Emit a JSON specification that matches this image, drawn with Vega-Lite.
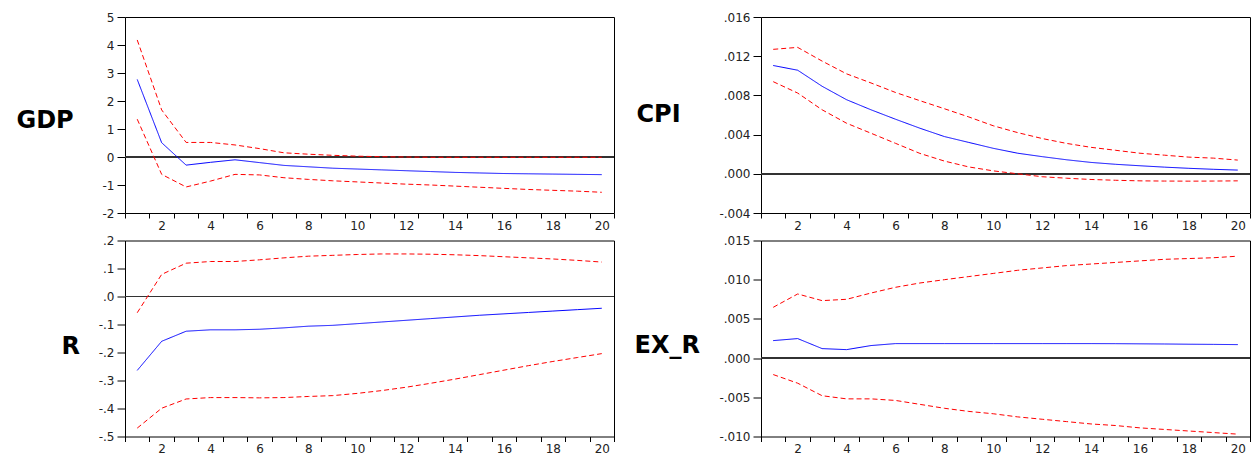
{
  "$schema": "https://vega.github.io/schema/vega-lite/v6.json",
  "background": "white",
  "padding": {"left": 15, "top": 10, "right": 0, "bottom": 0},
  "bounds": "flush",
  "columns": 2,
  "spacing": {"row": 27.5, "column": 147},
  "resolve": {"scale": {"x": "independent", "y": "independent"}, "axis": {"x": "independent", "y": "independent"}},
  "config": {
    "view": {"stroke": "black", "strokeWidth": 1},
    "axis": {"labelFont": "DejaVu Sans", "labelFontSize": 12, "labelColor": "#222", "tickColor": "black", "tickWidth": 1, "domain": false, "grid": false, "labelOverlap": false, "labelFlush": false, "titleFont": "DejaVu Sans", "titleFontWeight": "bold", "titleFontSize": 24, "titleColor": "black"},
    "axisX": {"tickSize": 5, "labelPadding": 2},
    "axisY": {"tickSize": 8, "labelPadding": 3}
  },
  "datasets": {
    "d": [
      {"p":"GDP","h":1,"s":"m","v":2.77},{"p":"GDP","h":2,"s":"m","v":0.51},{"p":"GDP","h":3,"s":"m","v":-0.29},{"p":"GDP","h":4,"s":"m","v":-0.19},{"p":"GDP","h":5,"s":"m","v":-0.10},{"p":"GDP","h":6,"s":"m","v":-0.20},{"p":"GDP","h":7,"s":"m","v":-0.30},{"p":"GDP","h":8,"s":"m","v":-0.35},{"p":"GDP","h":9,"s":"m","v":-0.40},{"p":"GDP","h":10,"s":"m","v":-0.43},{"p":"GDP","h":11,"s":"m","v":-0.46},{"p":"GDP","h":12,"s":"m","v":-0.49},{"p":"GDP","h":13,"s":"m","v":-0.52},{"p":"GDP","h":14,"s":"m","v":-0.55},{"p":"GDP","h":15,"s":"m","v":-0.57},{"p":"GDP","h":16,"s":"m","v":-0.59},{"p":"GDP","h":17,"s":"m","v":-0.60},{"p":"GDP","h":18,"s":"m","v":-0.61},{"p":"GDP","h":19,"s":"m","v":-0.62},{"p":"GDP","h":20,"s":"m","v":-0.63},
      {"p":"GDP","h":1,"s":"u","v":4.18},{"p":"GDP","h":2,"s":"u","v":1.68},{"p":"GDP","h":3,"s":"u","v":0.52},{"p":"GDP","h":4,"s":"u","v":0.52},{"p":"GDP","h":5,"s":"u","v":0.43},{"p":"GDP","h":6,"s":"u","v":0.30},{"p":"GDP","h":7,"s":"u","v":0.15},{"p":"GDP","h":8,"s":"u","v":0.10},{"p":"GDP","h":9,"s":"u","v":0.06},{"p":"GDP","h":10,"s":"u","v":0.03},{"p":"GDP","h":11,"s":"u","v":0.01},{"p":"GDP","h":12,"s":"u","v":0.0},{"p":"GDP","h":13,"s":"u","v":-0.01},{"p":"GDP","h":14,"s":"u","v":-0.01},{"p":"GDP","h":15,"s":"u","v":-0.01},{"p":"GDP","h":16,"s":"u","v":-0.01},{"p":"GDP","h":17,"s":"u","v":-0.01},{"p":"GDP","h":18,"s":"u","v":-0.01},{"p":"GDP","h":19,"s":"u","v":-0.01},{"p":"GDP","h":20,"s":"u","v":-0.01},
      {"p":"GDP","h":1,"s":"l","v":1.35},{"p":"GDP","h":2,"s":"l","v":-0.62},{"p":"GDP","h":3,"s":"l","v":-1.07},{"p":"GDP","h":4,"s":"l","v":-0.86},{"p":"GDP","h":5,"s":"l","v":-0.62},{"p":"GDP","h":6,"s":"l","v":-0.64},{"p":"GDP","h":7,"s":"l","v":-0.74},{"p":"GDP","h":8,"s":"l","v":-0.80},{"p":"GDP","h":9,"s":"l","v":-0.85},{"p":"GDP","h":10,"s":"l","v":-0.89},{"p":"GDP","h":11,"s":"l","v":-0.93},{"p":"GDP","h":12,"s":"l","v":-0.97},{"p":"GDP","h":13,"s":"l","v":-1.00},{"p":"GDP","h":14,"s":"l","v":-1.04},{"p":"GDP","h":15,"s":"l","v":-1.08},{"p":"GDP","h":16,"s":"l","v":-1.12},{"p":"GDP","h":17,"s":"l","v":-1.16},{"p":"GDP","h":18,"s":"l","v":-1.19},{"p":"GDP","h":19,"s":"l","v":-1.22},{"p":"GDP","h":20,"s":"l","v":-1.26},
      {"p":"CPI","h":1,"s":"m","v":0.01105},{"p":"CPI","h":2,"s":"m","v":0.01057},{"p":"CPI","h":3,"s":"m","v":0.00893},{"p":"CPI","h":4,"s":"m","v":0.00756},{"p":"CPI","h":5,"s":"m","v":0.00653},{"p":"CPI","h":6,"s":"m","v":0.00557},{"p":"CPI","h":7,"s":"m","v":0.00465},{"p":"CPI","h":8,"s":"m","v":0.0038},{"p":"CPI","h":9,"s":"m","v":0.0032},{"p":"CPI","h":10,"s":"m","v":0.0026},{"p":"CPI","h":11,"s":"m","v":0.0021},{"p":"CPI","h":12,"s":"m","v":0.00175},{"p":"CPI","h":13,"s":"m","v":0.00143},{"p":"CPI","h":14,"s":"m","v":0.00116},{"p":"CPI","h":15,"s":"m","v":0.00097},{"p":"CPI","h":16,"s":"m","v":0.00082},{"p":"CPI","h":17,"s":"m","v":0.00068},{"p":"CPI","h":18,"s":"m","v":0.00056},{"p":"CPI","h":19,"s":"m","v":0.00046},{"p":"CPI","h":20,"s":"m","v":0.00038},
      {"p":"CPI","h":1,"s":"u","v":0.0127},{"p":"CPI","h":2,"s":"u","v":0.0129},{"p":"CPI","h":3,"s":"u","v":0.0115},{"p":"CPI","h":4,"s":"u","v":0.0102},{"p":"CPI","h":5,"s":"u","v":0.00927},{"p":"CPI","h":6,"s":"u","v":0.0083},{"p":"CPI","h":7,"s":"u","v":0.00746},{"p":"CPI","h":8,"s":"u","v":0.00664},{"p":"CPI","h":9,"s":"u","v":0.0058},{"p":"CPI","h":10,"s":"u","v":0.0049},{"p":"CPI","h":11,"s":"u","v":0.0042},{"p":"CPI","h":12,"s":"u","v":0.0036},{"p":"CPI","h":13,"s":"u","v":0.0031},{"p":"CPI","h":14,"s":"u","v":0.0027},{"p":"CPI","h":15,"s":"u","v":0.0024},{"p":"CPI","h":16,"s":"u","v":0.0021},{"p":"CPI","h":17,"s":"u","v":0.0019},{"p":"CPI","h":18,"s":"u","v":0.0017},{"p":"CPI","h":19,"s":"u","v":0.0016},{"p":"CPI","h":20,"s":"u","v":0.0014},
      {"p":"CPI","h":1,"s":"l","v":0.0094},{"p":"CPI","h":2,"s":"l","v":0.00824},{"p":"CPI","h":3,"s":"l","v":0.00653},{"p":"CPI","h":4,"s":"l","v":0.00516},{"p":"CPI","h":5,"s":"l","v":0.00414},{"p":"CPI","h":6,"s":"l","v":0.00311},{"p":"CPI","h":7,"s":"l","v":0.00208},{"p":"CPI","h":8,"s":"l","v":0.0013},{"p":"CPI","h":9,"s":"l","v":0.0007},{"p":"CPI","h":10,"s":"l","v":0.0003},{"p":"CPI","h":11,"s":"l","v":0.0},{"p":"CPI","h":12,"s":"l","v":-0.0003},{"p":"CPI","h":13,"s":"l","v":-0.00045},{"p":"CPI","h":14,"s":"l","v":-0.00058},{"p":"CPI","h":15,"s":"l","v":-0.00066},{"p":"CPI","h":16,"s":"l","v":-0.00072},{"p":"CPI","h":17,"s":"l","v":-0.00074},{"p":"CPI","h":18,"s":"l","v":-0.00075},{"p":"CPI","h":19,"s":"l","v":-0.00074},{"p":"CPI","h":20,"s":"l","v":-0.00072},
      {"p":"R","h":1,"s":"m","v":-0.264},{"p":"R","h":2,"s":"m","v":-0.160},{"p":"R","h":3,"s":"m","v":-0.124},{"p":"R","h":4,"s":"m","v":-0.119},{"p":"R","h":5,"s":"m","v":-0.119},{"p":"R","h":6,"s":"m","v":-0.117},{"p":"R","h":7,"s":"m","v":-0.112},{"p":"R","h":8,"s":"m","v":-0.106},{"p":"R","h":9,"s":"m","v":-0.103},{"p":"R","h":10,"s":"m","v":-0.097},{"p":"R","h":11,"s":"m","v":-0.091},{"p":"R","h":12,"s":"m","v":-0.085},{"p":"R","h":13,"s":"m","v":-0.079},{"p":"R","h":14,"s":"m","v":-0.073},{"p":"R","h":15,"s":"m","v":-0.067},{"p":"R","h":16,"s":"m","v":-0.062},{"p":"R","h":17,"s":"m","v":-0.057},{"p":"R","h":18,"s":"m","v":-0.052},{"p":"R","h":19,"s":"m","v":-0.047},{"p":"R","h":20,"s":"m","v":-0.042},
      {"p":"R","h":1,"s":"u","v":-0.058},{"p":"R","h":2,"s":"u","v":0.079},{"p":"R","h":3,"s":"u","v":0.119},{"p":"R","h":4,"s":"u","v":0.125},{"p":"R","h":5,"s":"u","v":0.125},{"p":"R","h":6,"s":"u","v":0.131},{"p":"R","h":7,"s":"u","v":0.138},{"p":"R","h":8,"s":"u","v":0.144},{"p":"R","h":9,"s":"u","v":0.147},{"p":"R","h":10,"s":"u","v":0.150},{"p":"R","h":11,"s":"u","v":0.152},{"p":"R","h":12,"s":"u","v":0.152},{"p":"R","h":13,"s":"u","v":0.151},{"p":"R","h":14,"s":"u","v":0.149},{"p":"R","h":15,"s":"u","v":0.146},{"p":"R","h":16,"s":"u","v":0.142},{"p":"R","h":17,"s":"u","v":0.138},{"p":"R","h":18,"s":"u","v":0.134},{"p":"R","h":19,"s":"u","v":0.129},{"p":"R","h":20,"s":"u","v":0.123},
      {"p":"R","h":1,"s":"l","v":-0.470},{"p":"R","h":2,"s":"l","v":-0.399},{"p":"R","h":3,"s":"l","v":-0.366},{"p":"R","h":4,"s":"l","v":-0.361},{"p":"R","h":5,"s":"l","v":-0.361},{"p":"R","h":6,"s":"l","v":-0.362},{"p":"R","h":7,"s":"l","v":-0.361},{"p":"R","h":8,"s":"l","v":-0.357},{"p":"R","h":9,"s":"l","v":-0.354},{"p":"R","h":10,"s":"l","v":-0.346},{"p":"R","h":11,"s":"l","v":-0.336},{"p":"R","h":12,"s":"l","v":-0.324},{"p":"R","h":13,"s":"l","v":-0.310},{"p":"R","h":14,"s":"l","v":-0.295},{"p":"R","h":15,"s":"l","v":-0.279},{"p":"R","h":16,"s":"l","v":-0.263},{"p":"R","h":17,"s":"l","v":-0.247},{"p":"R","h":18,"s":"l","v":-0.232},{"p":"R","h":19,"s":"l","v":-0.218},{"p":"R","h":20,"s":"l","v":-0.204},
      {"p":"EX_R","h":1,"s":"m","v":0.00223},{"p":"EX_R","h":2,"s":"m","v":0.00249},{"p":"EX_R","h":3,"s":"m","v":0.00121},{"p":"EX_R","h":4,"s":"m","v":0.00108},{"p":"EX_R","h":5,"s":"m","v":0.0016},{"p":"EX_R","h":6,"s":"m","v":0.00185},{"p":"EX_R","h":7,"s":"m","v":0.00185},{"p":"EX_R","h":8,"s":"m","v":0.00185},{"p":"EX_R","h":9,"s":"m","v":0.00185},{"p":"EX_R","h":10,"s":"m","v":0.00185},{"p":"EX_R","h":11,"s":"m","v":0.00185},{"p":"EX_R","h":12,"s":"m","v":0.00185},{"p":"EX_R","h":13,"s":"m","v":0.00185},{"p":"EX_R","h":14,"s":"m","v":0.00185},{"p":"EX_R","h":15,"s":"m","v":0.00184},{"p":"EX_R","h":16,"s":"m","v":0.00182},{"p":"EX_R","h":17,"s":"m","v":0.0018},{"p":"EX_R","h":18,"s":"m","v":0.00177},{"p":"EX_R","h":19,"s":"m","v":0.00175},{"p":"EX_R","h":20,"s":"m","v":0.00172},
      {"p":"EX_R","h":1,"s":"u","v":0.00648},{"p":"EX_R","h":2,"s":"u","v":0.00818},{"p":"EX_R","h":3,"s":"u","v":0.00733},{"p":"EX_R","h":4,"s":"u","v":0.0075},{"p":"EX_R","h":5,"s":"u","v":0.0083},{"p":"EX_R","h":6,"s":"u","v":0.00903},{"p":"EX_R","h":7,"s":"u","v":0.00958},{"p":"EX_R","h":8,"s":"u","v":0.0100},{"p":"EX_R","h":9,"s":"u","v":0.0104},{"p":"EX_R","h":10,"s":"u","v":0.0108},{"p":"EX_R","h":11,"s":"u","v":0.0112},{"p":"EX_R","h":12,"s":"u","v":0.0115},{"p":"EX_R","h":13,"s":"u","v":0.0118},{"p":"EX_R","h":14,"s":"u","v":0.0120},{"p":"EX_R","h":15,"s":"u","v":0.0122},{"p":"EX_R","h":16,"s":"u","v":0.0124},{"p":"EX_R","h":17,"s":"u","v":0.0126},{"p":"EX_R","h":18,"s":"u","v":0.0127},{"p":"EX_R","h":19,"s":"u","v":0.0128},{"p":"EX_R","h":20,"s":"u","v":0.0130},
      {"p":"EX_R","h":1,"s":"l","v":-0.0021},{"p":"EX_R","h":2,"s":"l","v":-0.0032},{"p":"EX_R","h":3,"s":"l","v":-0.0048},{"p":"EX_R","h":4,"s":"l","v":-0.0052},{"p":"EX_R","h":5,"s":"l","v":-0.0052},{"p":"EX_R","h":6,"s":"l","v":-0.0054},{"p":"EX_R","h":7,"s":"l","v":-0.0059},{"p":"EX_R","h":8,"s":"l","v":-0.0064},{"p":"EX_R","h":9,"s":"l","v":-0.0068},{"p":"EX_R","h":10,"s":"l","v":-0.0071},{"p":"EX_R","h":11,"s":"l","v":-0.0075},{"p":"EX_R","h":12,"s":"l","v":-0.0078},{"p":"EX_R","h":13,"s":"l","v":-0.0081},{"p":"EX_R","h":14,"s":"l","v":-0.0084},{"p":"EX_R","h":15,"s":"l","v":-0.0086},{"p":"EX_R","h":16,"s":"l","v":-0.0089},{"p":"EX_R","h":17,"s":"l","v":-0.0091},{"p":"EX_R","h":18,"s":"l","v":-0.0093},{"p":"EX_R","h":19,"s":"l","v":-0.0095},{"p":"EX_R","h":20,"s":"l","v":-0.0097}
    ]
  },
  "concat": [
    {
      "width": 489, "height": 196,
      "data": {"name": "d"},
      "transform": [{"filter": "datum.p === 'GDP'"}],
      "layer": [
        {"mark": {"type": "rule", "color": "#333", "strokeWidth": 1},
         "encoding": {"y": {"datum": 0, "type": "quantitative", "scale": {"domain": [-2, 5], "nice": false, "zero": false},
           "axis": {"values": [-2,-1,0,1,2,3,4,5], "labelExpr": "'' + datum.value", "title": "GDP", "titleAngle": 0, "titleAlign": "left", "titleBaseline": "middle", "titleX": -109, "titleY": 103}}}},
        {"mark": {"type": "line", "strokeWidth": 1},
         "encoding": {
           "x": {"field": "h", "type": "quantitative", "scale": {"domain": [0.5, 20.5], "nice": false, "zero": false},
             "axis": {"title": null, "values": [0.5,1.5,2,2.5,3.5,4,4.5,5.5,6,6.5,7.5,8,8.5,9.5,10,10.5,11.5,12,12.5,13.5,14,14.5,15.5,16,16.5,17.5,18,18.5,19.5,20,20.5], "labelExpr": "datum.value % 2 === 0 ? '' + datum.value : ''", "tickOpacity": {"condition": {"test": "datum.value % 1 === 0", "value": 0}, "value": 1}}},
           "y": {"field": "v", "type": "quantitative", "scale": {"domain": [-2, 5], "nice": false, "zero": false},
             "axis": {"values": [-2,-1,0,1,2,3,4,5], "labelExpr": "'' + datum.value", "title": "GDP", "titleAngle": 0, "titleAlign": "left", "titleBaseline": "middle", "titleX": -109, "titleY": 103}},
           "color": {"field": "s", "type": "nominal", "scale": {"domain": ["m","u","l"], "range": ["#0000FF","#FF0000","#FF0000"]}, "legend": null},
           "strokeDash": {"field": "s", "type": "nominal", "scale": {"domain": ["m","u","l"], "range": [[1,0],[5,3],[5,3]]}, "legend": null}
         }}
      ]
    },
    {
      "width": 489, "height": 196,
      "data": {"name": "d"},
      "transform": [{"filter": "datum.p === 'CPI'"}],
      "layer": [
        {"mark": {"type": "rule", "color": "#333", "strokeWidth": 1},
         "encoding": {"y": {"datum": 0, "type": "quantitative", "scale": {"domain": [-0.004, 0.016], "nice": false, "zero": false},
           "axis": {"values": [-0.004,0,0.004,0.008,0.012,0.016], "labelExpr": "(datum.value < 0 ? '-' : '') + replace(format(abs(datum.value), '.3f'), '0.', '.')", "title": "CPI", "titleAngle": 0, "titleAlign": "left", "titleBaseline": "middle", "titleX": -125, "titleY": 97}}}},
        {"mark": {"type": "line", "strokeWidth": 1},
         "encoding": {
           "x": {"field": "h", "type": "quantitative", "scale": {"domain": [0.5, 20.5], "nice": false, "zero": false},
             "axis": {"title": null, "values": [0.5,1.5,2,2.5,3.5,4,4.5,5.5,6,6.5,7.5,8,8.5,9.5,10,10.5,11.5,12,12.5,13.5,14,14.5,15.5,16,16.5,17.5,18,18.5,19.5,20,20.5], "labelExpr": "datum.value % 2 === 0 ? '' + datum.value : ''", "tickOpacity": {"condition": {"test": "datum.value % 1 === 0", "value": 0}, "value": 1}}},
           "y": {"field": "v", "type": "quantitative", "scale": {"domain": [-0.004, 0.016], "nice": false, "zero": false},
             "axis": {"values": [-0.004,0,0.004,0.008,0.012,0.016], "labelExpr": "(datum.value < 0 ? '-' : '') + replace(format(abs(datum.value), '.3f'), '0.', '.')", "title": "CPI", "titleAngle": 0, "titleAlign": "left", "titleBaseline": "middle", "titleX": -125, "titleY": 97}},
           "color": {"field": "s", "type": "nominal", "scale": {"domain": ["m","u","l"], "range": ["#0000FF","#FF0000","#FF0000"]}, "legend": null},
           "strokeDash": {"field": "s", "type": "nominal", "scale": {"domain": ["m","u","l"], "range": [[1,0],[5,3],[5,3]]}, "legend": null}
         }}
      ]
    },
    {
      "width": 489, "height": 196,
      "data": {"name": "d"},
      "transform": [{"filter": "datum.p === 'R'"}],
      "layer": [
        {"mark": {"type": "rule", "color": "#333", "strokeWidth": 1},
         "encoding": {"y": {"datum": 0, "type": "quantitative", "scale": {"domain": [-0.5, 0.2], "nice": false, "zero": false},
           "axis": {"values": [-0.5,-0.4,-0.3,-0.2,-0.1,0,0.1,0.2], "labelExpr": "(datum.value < 0 ? '-' : '') + replace(format(abs(datum.value), '.1f'), '0.', '.')", "title": "R", "titleAngle": 0, "titleAlign": "left", "titleBaseline": "middle", "titleX": -64, "titleY": 106}}}},
        {"mark": {"type": "line", "strokeWidth": 1},
         "encoding": {
           "x": {"field": "h", "type": "quantitative", "scale": {"domain": [0.5, 20.5], "nice": false, "zero": false},
             "axis": {"title": null, "values": [0.5,1.5,2,2.5,3.5,4,4.5,5.5,6,6.5,7.5,8,8.5,9.5,10,10.5,11.5,12,12.5,13.5,14,14.5,15.5,16,16.5,17.5,18,18.5,19.5,20,20.5], "labelExpr": "datum.value % 2 === 0 ? '' + datum.value : ''", "tickOpacity": {"condition": {"test": "datum.value % 1 === 0", "value": 0}, "value": 1}}},
           "y": {"field": "v", "type": "quantitative", "scale": {"domain": [-0.5, 0.2], "nice": false, "zero": false},
             "axis": {"values": [-0.5,-0.4,-0.3,-0.2,-0.1,0,0.1,0.2], "labelExpr": "(datum.value < 0 ? '-' : '') + replace(format(abs(datum.value), '.1f'), '0.', '.')", "title": "R", "titleAngle": 0, "titleAlign": "left", "titleBaseline": "middle", "titleX": -64, "titleY": 106}},
           "color": {"field": "s", "type": "nominal", "scale": {"domain": ["m","u","l"], "range": ["#0000FF","#FF0000","#FF0000"]}, "legend": null},
           "strokeDash": {"field": "s", "type": "nominal", "scale": {"domain": ["m","u","l"], "range": [[1,0],[5,3],[5,3]]}, "legend": null}
         }}
      ]
    },
    {
      "width": 489, "height": 196,
      "data": {"name": "d"},
      "transform": [{"filter": "datum.p === 'EX_R'"}],
      "layer": [
        {"mark": {"type": "rule", "color": "#333", "strokeWidth": 1},
         "encoding": {"y": {"datum": 0, "type": "quantitative", "scale": {"domain": [-0.01, 0.015], "nice": false, "zero": false},
           "axis": {"values": [-0.01,-0.005,0,0.005,0.01,0.015], "labelExpr": "(datum.value < 0 ? '-' : '') + replace(format(abs(datum.value), '.3f'), '0.', '.')", "title": "EX_R", "titleAngle": 0, "titleAlign": "left", "titleBaseline": "middle", "titleX": -127, "titleY": 105}}}},
        {"mark": {"type": "line", "strokeWidth": 1},
         "encoding": {
           "x": {"field": "h", "type": "quantitative", "scale": {"domain": [0.5, 20.5], "nice": false, "zero": false},
             "axis": {"title": null, "values": [0.5,1.5,2,2.5,3.5,4,4.5,5.5,6,6.5,7.5,8,8.5,9.5,10,10.5,11.5,12,12.5,13.5,14,14.5,15.5,16,16.5,17.5,18,18.5,19.5,20,20.5], "labelExpr": "datum.value % 2 === 0 ? '' + datum.value : ''", "tickOpacity": {"condition": {"test": "datum.value % 1 === 0", "value": 0}, "value": 1}}},
           "y": {"field": "v", "type": "quantitative", "scale": {"domain": [-0.01, 0.015], "nice": false, "zero": false},
             "axis": {"values": [-0.01,-0.005,0,0.005,0.01,0.015], "labelExpr": "(datum.value < 0 ? '-' : '') + replace(format(abs(datum.value), '.3f'), '0.', '.')", "title": "EX_R", "titleAngle": 0, "titleAlign": "left", "titleBaseline": "middle", "titleX": -127, "titleY": 105}},
           "color": {"field": "s", "type": "nominal", "scale": {"domain": ["m","u","l"], "range": ["#0000FF","#FF0000","#FF0000"]}, "legend": null},
           "strokeDash": {"field": "s", "type": "nominal", "scale": {"domain": ["m","u","l"], "range": [[1,0],[5,3],[5,3]]}, "legend": null}
         }}
      ]
    }
  ]
}
